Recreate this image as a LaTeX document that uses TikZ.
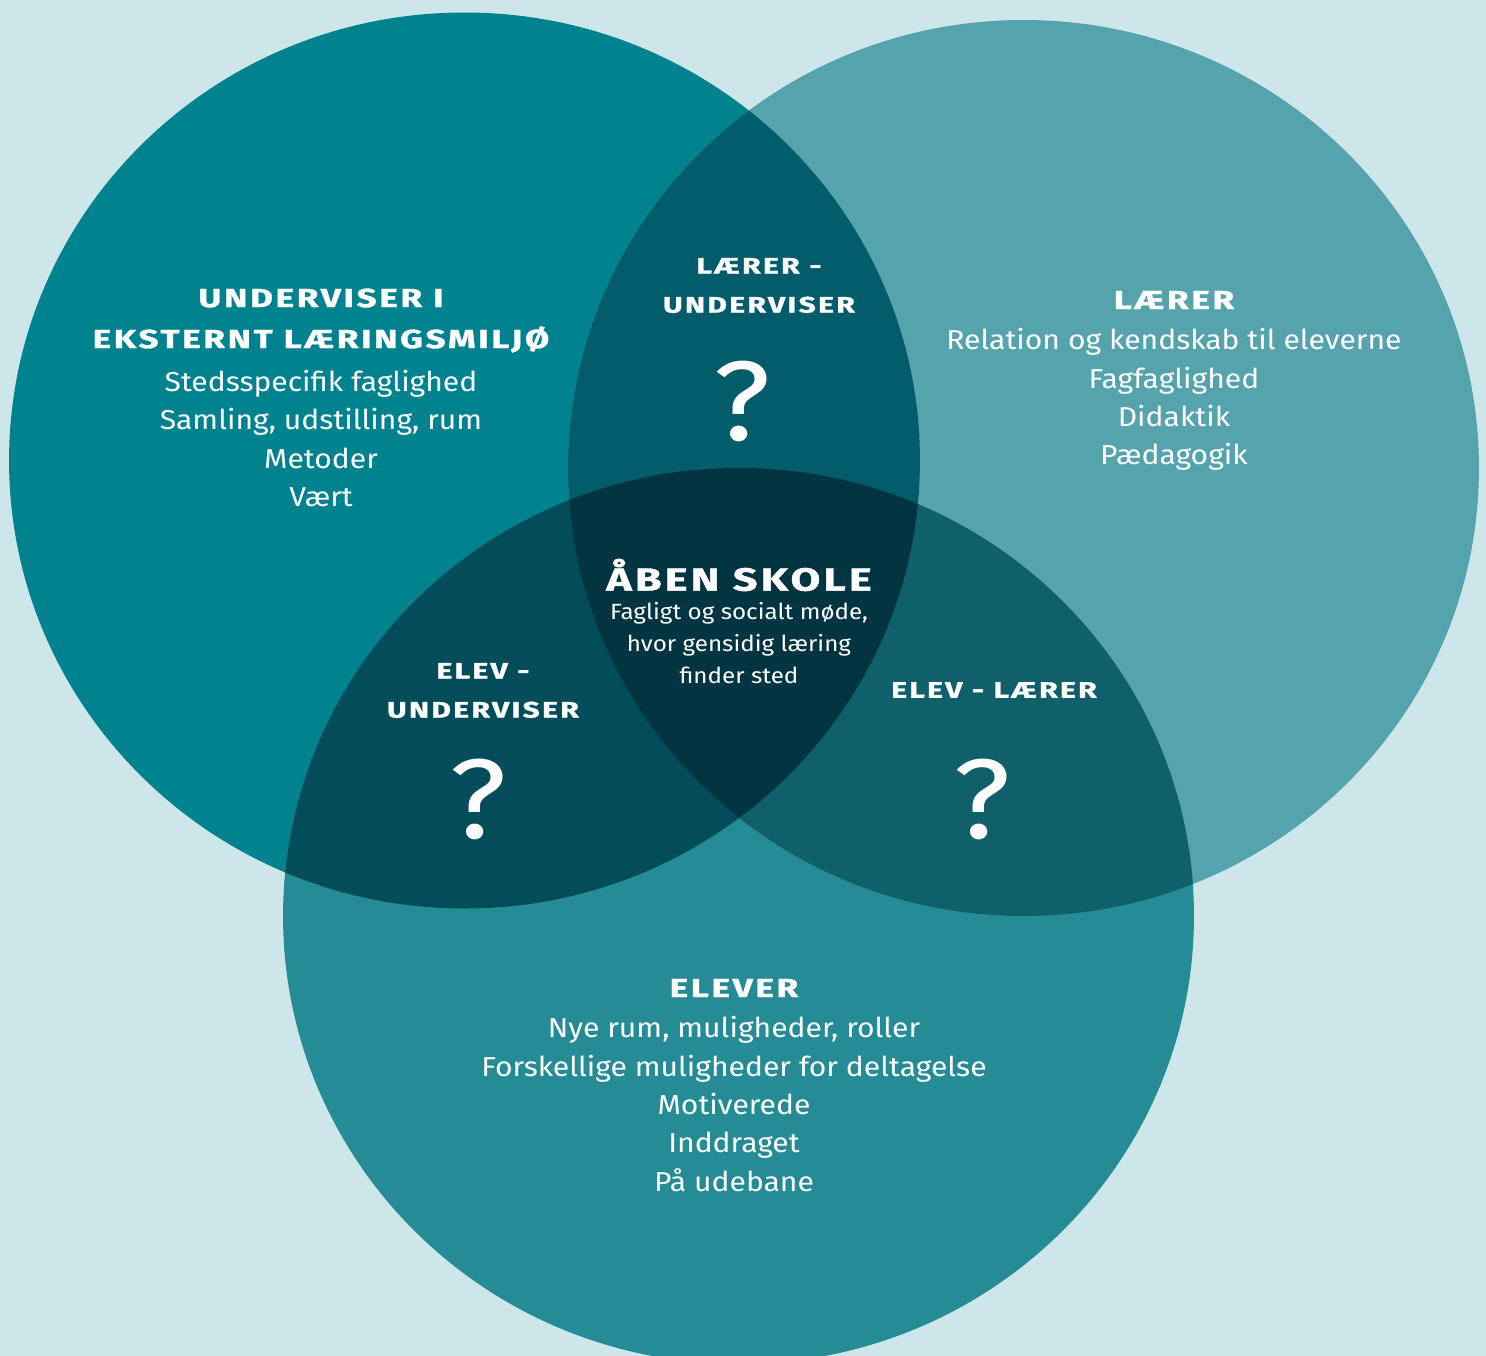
\documentclass[tikz,border=0pt]{standalone}
\usepackage{fontspec}
\setmainfont[FakeStretch=1.1]{Fira Sans}
\newfontfamily\headfont[LetterSpace=10, FakeStretch=1.35, FakeBold=1.2]{Fira Sans}
\usetikzlibrary{positioning}
\definecolor{bgblue}{HTML}{CDE6E9}
\definecolor{underteal}{HTML}{00838F}
\definecolor{laererteal}{HTML}{55A3AC}
\definecolor{eleverteal}{HTML}{258B95}
\definecolor{ulteal}{HTML}{035C69}
\definecolor{ueteal}{HTML}{034D5A}
\definecolor{leteal}{HTML}{10606C}
\definecolor{midteal}{HTML}{033441}
\def\rx{341.6pt}
\def\ry{336pt}

\begin{document}
\begin{tikzpicture}[x=0.75pt,y=-0.75pt,
		every node/.style={text=white, align=center, inner sep=0pt},
		bighead/.style={font=\headfont\bfseries\fontsize{19.6}{30.75}\selectfont},
		smallhead/.style={font=\headfont\bfseries\fontsize{16.8}{29.25}\selectfont},
		bodytext/.style={font=\fontsize{20.5}{28.75}\selectfont},
		smalltext/.style={font=\fontsize{16.5}{24}\selectfont},
		ask/.style={font=\fontsize{85}{85}\selectfont}]
		\useasboundingbox (0,0) rectangle (1486,1356);
		\fill[bgblue] (0,0) rectangle (1486,1356);
		% the three circles
		\coordinate (cU) at (464.5,460.5);
		\coordinate (cL) at (1023.5,468);
		\coordinate (cE) at (738.5,916);
		\fill[underteal] (cU) ellipse [x radius=\rx, y radius=\ry];
		\fill[laererteal] (cL) ellipse [x radius=\rx, y radius=\ry];
		\fill[eleverteal] (cE) ellipse [x radius=\rx, y radius=\ry];
		% overlaps
		\begin{scope}
			\clip (cU) ellipse [x radius=\rx, y radius=\ry];
			\fill[ulteal] (cL) ellipse [x radius=\rx, y radius=\ry];
			\fill[ueteal] (cE) ellipse [x radius=\rx, y radius=\ry];
		\end{scope}
		\begin{scope}
			\clip (cL) ellipse [x radius=\rx, y radius=\ry];
			\fill[leteal] (cE) ellipse [x radius=\rx, y radius=\ry];
			\clip (cU) ellipse [x radius=\rx, y radius=\ry];
			\fill[midteal] (cE) ellipse [x radius=\rx, y radius=\ry];
		\end{scope}
		% texts
		\node[bighead] (undhead) at (321,320.5) {UNDERVISER I\\EKSTERNT LÆRINGSMILJØ};
		\node[bodytext] (undbody) at (321,438.5) {Stedsspecifik faglighed\\Samling, udstilling, rum\\Metoder\\Vært};
		\node[bighead] (laehead) at (1174,300) {LÆRER};
		\node[bodytext] (laebody) at (1174,399.5) {Relation og kendskab til eleverne\\Fagfaglighed\\Didaktik\\Pædagogik};
		\node[bighead] (elehead) at (734,988) {ELEVER};
		\node[bodytext] (elebody) at (734,1104) {Nye rum, muligheder, roller\\Forskellige muligheder for deltagelse\\Motiverede\\Inddraget\\På udebane};
		\node[bighead, font=\headfont\bfseries\fontsize{24}{30}\selectfont] (aabhead) at (739,575) {ÅBEN SKOLE};
		\node[smalltext] (aabbody) at (739,643) {Fagligt og socialt møde,\\hvor gensidig læring\\finder sted};
		\node[smallhead] (luhead) at (759,285.5) {LÆRER -\\UNDERVISER};
		\node[ask] (luask) at (742,401) {?};
		\node[smallhead] (euhead) at (483,690.5) {ELEV -\\UNDERVISER};
		\node[ask] (euask) at (478,799) {?};
		\node[smallhead] (elhead) at (994,690) {ELEV - LÆRER};
		\node[ask] (elask) at (982,799) {?};
	\end{tikzpicture}
\end{document}
